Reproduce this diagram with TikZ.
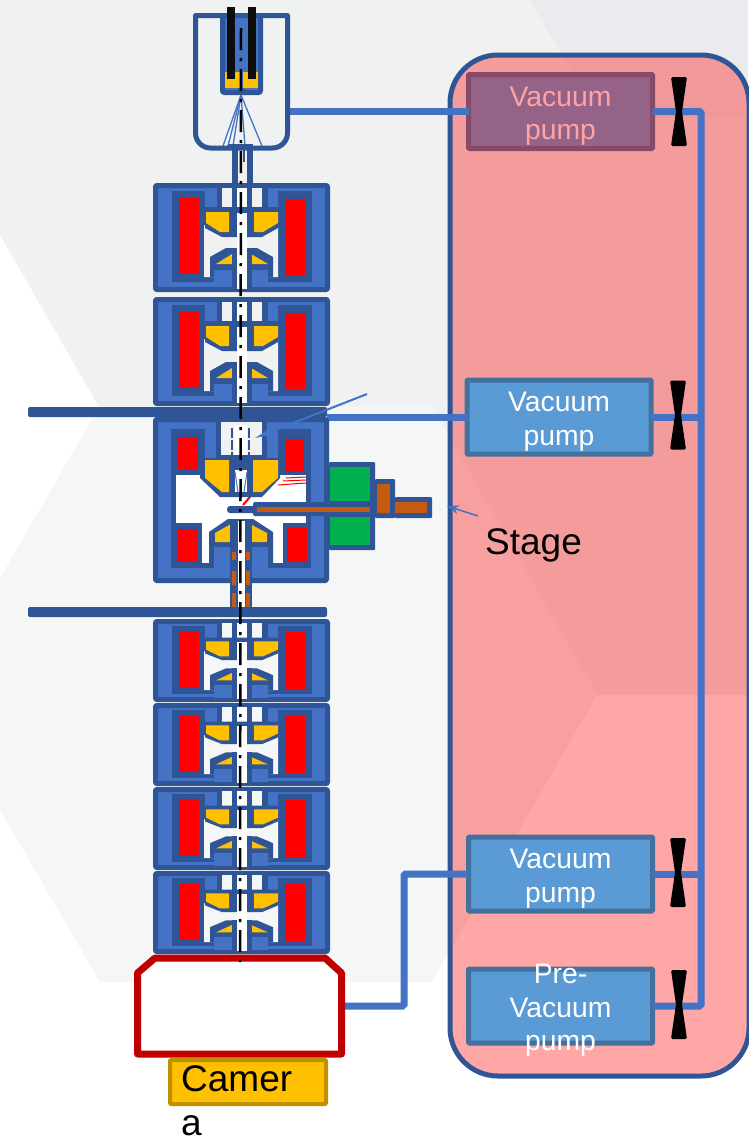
\documentclass[tikz,border=0pt]{standalone}
\usepackage{fontspec}
\setmainfont{Liberation Sans}
\usetikzlibrary{arrows.meta}
\definecolor{bgA}{HTML}{F0F1F1}
\definecolor{bgB}{HTML}{F5F7F7}
\definecolor{bgC}{HTML}{E9EBEE}
\definecolor{bgD}{HTML}{EFF0F1}
\definecolor{ringdark}{HTML}{2F5597}
\definecolor{ringblue}{HTML}{4472C4}
\definecolor{goldy}{HTML}{FFC000}
\definecolor{goldedge}{HTML}{BF9000}
\definecolor{brownrod}{HTML}{C55A11}
\definecolor{greenblk}{HTML}{00B050}
\definecolor{pumpfill}{HTML}{5B9BD5}
\definecolor{pumpedge}{HTML}{41719C}
\definecolor{pumpdimfill}{HTML}{956388}
\definecolor{pumpdimedge}{HTML}{874A68}
\definecolor{pumpdimtext}{HTML}{FFA3A3}
\definecolor{chamberred}{HTML}{C00000}
\tikzset{
  pumpbox/.style={draw=pumpedge,fill=pumpfill,line width=5pt,rounded corners=1pt,
    minimum width=184pt,minimum height=74pt,inner sep=0pt,outer sep=0pt,text=white,
    font=\fontsize{28.3}{33.5}\selectfont},
  dimbox/.style={pumpbox,draw=pumpdimedge,fill=pumpdimfill,text=pumpdimtext},
  pipe/.style={draw=ringblue,line width=7pt,rounded corners=1.5pt},
  plate/.style={fill=ringdark,rounded corners=2pt},
  axisline/.style={draw=black,line width=2.5pt,dash pattern=on 22pt off 8pt on 3pt off 8pt},
  fanline/.style={draw=ringblue,line width=1.3pt},
  callout/.style={draw=ringblue,line width=2pt,-{Stealth[length=24pt,width=9pt,inset=3pt]}},
  calloutsmall/.style={draw=ringblue,line width=1.5pt,-{Stealth[length=12pt,width=9pt]}},
  bigtext/.style={font=\fontsize{37}{44}\selectfont,inner sep=0pt,text=black}
}
\newcommand{\lensunit}[3]{%
\begin{scope}[shift={(0,#1)},yscale=#2,shift={(0,-185.5)},line join=round]
  \path[draw=ringdark,fill=ringblue,line width=5pt,rounded corners=1pt] (155.5,185.5) rectangle (327.5,289.5);
  \fill[ringdark] (172,191) rectangle (205,282);
  \fill[ringdark] (172,277) rectangle (214,282);
  \fill[ringdark] (278,191) rectangle (312,282);
  \fill[ringdark] (268,277) rectangle (312,282);
  \fill[red] (179,198) rectangle (199,274);
  \fill[red] (285,199) rectangle (305,275);
  \fill[ringdark] (217,188) rectangle (268,208);
  \fill[#3] (222,188) rectangle (232,207);
  \fill[#3] (252,188) rectangle (262,207);
  \fill[white] (237,188) rectangle (247,207);
  \fill[#3] (204,225) -- (222,235) -- (262,235) -- (278,225) -- (278,277) -- (268,277) -- (268,258) -- (215,258) -- (215,277) -- (204,277) -- cycle;
  \fill[ringdark] (205,207) -- (278,207) -- (278,228) -- (262,237) -- (222,237) -- (205,228) -- cycle;
  \fill[goldy] (206,212) -- (229,212) -- (229,232) -- (220,232) -- (206,223) -- cycle;
  \fill[goldy] (254,212) -- (278,212) -- (278,223) -- (263,232) -- (254,232) -- cycle;
  \fill[ringdark] (210,277) -- (210,257) -- (226,248) -- (257,248) -- (273,257) -- (273,277) -- (268,277) -- (268,270) -- (214,270) -- (214,277) -- cycle;
  \fill[ringblue] (214,270) rectangle (268,287);
  \fill[goldy] (216,264) -- (232,254) -- (232,264) -- cycle;
  \fill[goldy] (251,254) -- (268,264) -- (251,264) -- cycle;
  \fill[ringdark] (232,248) rectangle (252,292);
  \fill[white] (237,213) rectangle (247,289);
\end{scope}}
\newcommand{\valve}[2]{%
  \fill[black,rounded corners=1.5pt] (#1-8,#2) -- (#1+8,#2) -- (#1+3,#2+34.5) -- (#1+8,#2+69) -- (#1-8,#2+69) -- (#1-3,#2+34.5) -- cycle;}
\newcommand{\pumptext}[2]{\raisebox{#1}[0pt][0pt]{\begin{tabular}{@{}c@{}}#2\end{tabular}}}
\begin{document}
\begin{tikzpicture}[x=1pt,y=-1pt]
\useasboundingbox (0,0) rectangle (748,1138);
% background facets
\fill[bgA] (0,0) -- (530,0) -- (598,118) -- (432,407) -- (99,407) -- (0,235) -- cycle;
\fill[bgC] (530,0) -- (748,0) -- (748,118) -- (598,118) -- cycle;
\fill[bgD] (598,118) -- (748,118) -- (748,695) -- (597,695) -- (432,407) -- cycle;
\fill[bgB] (99,407) -- (432,407) -- (597,695) -- (432,982) -- (100,982) -- (0,810) -- (0,578) -- cycle;
% right panel
\fill[red,opacity=0.35,rounded corners=48pt] (450,55) rectangle (749,1076);
\draw[ringdark,line width=5pt,rounded corners=48pt] (450,55) rectangle (749,1076);
% pumps
\node[dimbox] (p1) at (560.5,111.5) {\pumptext{-11pt}{Vacuum\\pump}};
\node[pumpbox] (p2) at (559,417) {\pumptext{-11pt}{Vacuum\\pump}};
\node[pumpbox] (p3) at (560.5,874) {\pumptext{-11pt}{Vacuum\\pump}};
\node[pumpbox] (p4) at (560.5,1006) {\pumptext{-11pt}{Pre-\\Vacuum\\pump}};
% named points
\coordinate (gunR) at (287.5,111.5);
\coordinate (colR) at (327,417);
\coordinate (chamberR) at (341.5,1006);
\coordinate (bendA) at (404,1006);
\coordinate (manifoldTop) at (701,111.5);
\coordinate (manifoldBot) at (701,1006);
\coordinate (calloutA) at (367,394);
\coordinate (calloutB) at (255,438);
\coordinate (stageA) at (478,516);
\coordinate (stageB) at (447,506);
% pipes
\draw[pipe] (gunR) -- (p1.west);
\draw[pipe] (colR) -- (p2.west);
\draw[pipe] (chamberR) -- (bendA) |- (p3.west);
\draw[pipe] (p1.east) -- (manifoldTop) -- (manifoldBot) -- (p4.east);
\draw[pipe] (p2.east) -- (p2.east -| manifoldTop);
\draw[pipe] (p3.east) -- (p3.east -| manifoldTop);
\valve{679}{77}\valve{678}{380.5}\valve{678}{838}\valve{679}{970}
% gun
\draw[ringdark,line width=5pt,line join=round] (195.5,15.5) -- (287.5,15.5) -- (287.5,133) arc[start angle=0,end angle=90,x radius=15pt,y radius=-15pt] -- (210.5,148) arc[start angle=90,end angle=180,x radius=15pt,y radius=-15pt] -- cycle;
\path[draw=ringdark,fill=ringblue,line width=5pt,rounded corners=2pt] (222.5,15.5) rectangle (260.5,92.5);
\fill[goldy] (225,72) rectangle (240,88);
\fill[goldy] (243,72) rectangle (258,88);
\fill[ringdark] (237,90) -- (241,87) -- (245,90) -- cycle;
\foreach \ex in {223,228,233,245,262}{\draw[fanline] (241,95) -- (\ex,146);}
\fill[ringdark] (228,144) rectangle (253,150);
\fill[ringdark] (232,150) rectangle (238,190);
\fill[ringdark] (247,150) rectangle (253,190);
\fill[ringdark] (243,150) rectangle (245,162);
% upper lenses
\lensunit{185.5}{1}{bgA}
\lensunit{299.5}{1}{bgA}
% objective lens
\path[draw=ringdark,fill=ringblue,line width=5pt,rounded corners=1pt,line join=round] (155.5,419.5) rectangle (326.5,580.5);
\fill[ringdark] (171,429) rectangle (311,475);
\fill[ringblue] (205,429) rectangle (216,458);
\fill[ringblue] (267,429) rectangle (278,458);
\fill[bgA] (221,422) rectangle (262,455);
\fill[ringdark] (216,422) rectangle (221,458);
\fill[ringdark] (262,422) rectangle (267,458);
\fill[white] (234,425) rectangle (247,455);
\draw[ringdark,line width=2pt,dash pattern=on 10pt off 2pt] (232,428) -- (232,455);
\draw[ringdark,line width=2pt,dash pattern=on 10pt off 2pt] (249,428) -- (249,455);
\fill[red] (178,437) rectangle (198,470);
\fill[red] (285,439) rectangle (304,472);
\fill[ringdark] (171,475) rectangle (176,563);
\fill[ringdark] (306,475) rectangle (311,563);
\fill[white] (176,475) rectangle (306,523);
\fill[white] (176,523) rectangle (306,563);
\fill[ringdark] (171,523) rectangle (202,568);
\fill[ringdark] (283,523) rectangle (311,568);
\fill[ringdark] (171,563) rectangle (214,568);
\fill[ringdark] (268,563) rectangle (311,568);
\fill[red] (177,529) rectangle (197,562);
\fill[red] (287,528) rectangle (307,562);
\fill[ringdark] (200,458) -- (280,458) -- (280,478) -- (262,497) -- (220,497) -- (200,478) -- cycle;
\fill[goldy] (205,460) -- (229,460) -- (229,492) -- (222,492) -- (205,478) -- cycle;
\fill[goldy] (253,460) -- (278,460) -- (278,478) -- (262,492) -- (253,492) -- cycle;
\fill[white] (235,470) rectangle (247,492);
\draw[ringblue,line width=1pt] (235,472) -- (238,492) (247,472) -- (244,492);
\draw[red,line width=1pt] (306,477) -- (286,478) (306,480) -- (283,481) (306,483) -- (278,485);
\draw[red,line width=2pt] (243,505) -- (250,497);
\fill[ringdark] (209,563) -- (209,532) -- (228,519) -- (253,519) -- (273,532) -- (273,563) -- (268,563) -- (268,547) -- (214,547) -- (214,563) -- cycle;
\fill[ringblue] (214,547) rectangle (268,578);
\fill[goldy] (215,533) -- (231,524) -- (231,542) -- (215,542) -- cycle;
\fill[goldy] (250,524) -- (267,533) -- (267,542) -- (250,542) -- cycle;
\fill[ringdark] (230,519) rectangle (252,612);
\fill[white] (238,521) rectangle (245,612);
\foreach \ya/\yb in {552/560,571/585,593/607}{
  \fill[brownrod] (232,\ya) rectangle (236,\yb);
  \fill[brownrod] (246,\ya) rectangle (250,\yb);}
% stage
\fill[ringdark,rounded corners=1pt] (329,462) rectangle (375,550);
\fill[greenblk] (330,467) rectangle (370,501);
\fill[greenblk] (330,517) rectangle (370,545);
\fill[ringdark,rounded corners=1pt] (375,479) rectangle (395,518);
\fill[brownrod] (377,484) rectangle (390,513);
\fill[ringdark,rounded corners=1pt] (395,497) rectangle (432,518);
\fill[brownrod] (395,502) rectangle (427,513);
\fill[ringdark,rounded corners=3pt] (227,506) rectangle (256,513);
\fill[ringdark,rounded corners=2pt] (253,502) rectangle (374,516);
\fill[brownrod] (257,507) rectangle (370,512);
% lower lenses
\lensunit{621.5}{0.75}{bgB}
\lensunit{705.5}{0.75}{bgB}
\lensunit{789.5}{0.75}{bgB}
\lensunit{873.5}{0.75}{bgB}
% plates
\fill[plate] (28,407) rectangle (327,417);
\fill[plate] (28,607) rectangle (327,617);
% camera and chamber
\node[draw=goldedge,fill=goldy,line width=4pt,rounded corners=1pt,minimum width=156pt,minimum height=44pt,inner sep=0pt,outer sep=0pt] (cam) at (248,1082) {};
\draw[chamberred,fill=white,line width=7pt,line join=round] (155,958) -- (325,958) -- (341.5,973) -- (341.5,1054) -- (137.5,1054) -- (137.5,973) -- cycle;
\node[bigtext,align=left,anchor=base west] (camtext) at (181,1135) {Camer\\a};
% axis
\draw[axisline] (241,28) -- (240,962);
% gun filaments
\fill[black!95] (227,7) rectangle (235,79);
\fill[black!95] (248,7) rectangle (256,79);
% callouts
\draw[callout] (calloutA) -- (calloutB);
\draw[calloutsmall] (stageA) -- (stageB);
\node[bigtext,anchor=base west] (stagelabel) at (485,554) {Stage};
\end{tikzpicture}
\end{document}
